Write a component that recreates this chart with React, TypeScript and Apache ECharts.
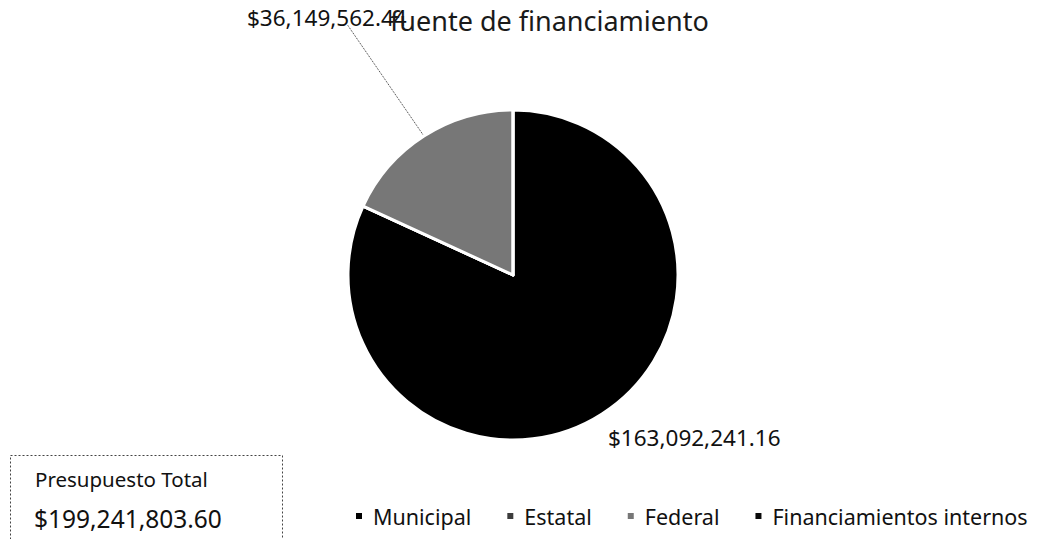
import React, { useEffect, useRef } from "react";
import * as echarts from "echarts";

const categories = ["Municipal", "Estatal", "Federal", "Financiamientos internos"];
const values = [163092241.16, 0, 36149562.44, 0];
const colors = ["#000000", "#3c3c3c", "#777777", "#0a0a0a"];
const totalLabel = "Presupuesto Total";
const totalValue = "$199,241,803.60";
const titleText = "fuente de financiamiento";

const fmt = (v: number) =>
  "$" + v.toLocaleString("en-US", { minimumFractionDigits: 2, maximumFractionDigits: 2 });

const FONT = "'Noto Sans', 'Open Sans', sans-serif";

export default function App() {
  const ref = useRef<HTMLDivElement>(null);
  useEffect(() => {
    if (!ref.current) return;
    const chart = echarts.init(ref.current, null, { renderer: "svg" });
    chart.setOption({
      animation: false,
      backgroundColor: "#ffffff",
      title: {
        text: titleText,
        left: 385,
        top: 2,
        textStyle: { fontFamily: FONT, fontSize: 27, fontWeight: "normal", color: "#1a1a1a" },
      },
      legend: {
        left: 354,
        top: 505,
        width: 686,
        padding: 0,
        icon: "rect",
        itemWidth: 8,
        itemHeight: 8,
        itemGap: 34,
        textStyle: { fontFamily: FONT, fontSize: 21.5, color: "#111", padding: [0, 0, 0, 5] },
        data: categories,
      },
      graphic: [
        {
          type: "rect",
          shape: { x: 10.5, y: 455.5, width: 272, height: 100 },
          style: { fill: "none", stroke: "#444", lineWidth: 1, lineDash: [2, 2] },
        },
        {
          type: "text",
          x: 35,
          y: 468,
          style: { text: totalLabel, fontFamily: FONT, fontSize: 20.5, fill: "#111" },
        },
        {
          type: "text",
          x: 34,
          y: 506,
          style: { text: totalValue, fontFamily: FONT, fontSize: 24.5, fill: "#111" },
        },
      ],
      series: [
        {
          type: "pie",
          center: [513, 275],
          radius: 165,
          startAngle: 90,
          clockwise: true,
          avoidLabelOverlap: false,
          itemStyle: { borderColor: "#ffffff", borderWidth: 3 },
          label: {
            fontFamily: FONT,
            fontSize: 22.5,
            color: "#111",
            formatter: (p: any) => (p.value > 0 ? fmt(p.value) : ""),
          },
          labelLine: { lineStyle: { color: "#333", width: 1, type: "dotted" } },
          labelLayout: (params: any) => {
            if (params.dataIndex === 2) {
              const x = 247;
              const y = 17;
              const w = params.labelRect.width;
              const h = params.labelRect.height;
              const start = params.labelLinePoints ? params.labelLinePoints[0] : null;
              const out: any = { x, y, align: "left", verticalAlign: "middle" };
              if (start) {
                out.labelLinePoints = [start, [x + w * 0.63, y + h * 0.35]];
              }
              return out;
            }
            if (params.dataIndex === 0) {
              return { x: 608, y: 437, align: "left", verticalAlign: "middle" };
            }
            return {};
          },
          data: categories.map((c, i) => ({
            name: c,
            value: values[i],
            itemStyle: { color: colors[i] },
            label: { show: values[i] > 0 },
            labelLine: { show: i === 2, length: 60, length2: 0 },
          })),
        },
      ],
    });
    return () => chart.dispose();
  }, []);
  return (
    <div
      ref={ref}
      style={{ position: "fixed", left: 0, top: 0, width: 1040, height: 539 }}
    />
  );
}
